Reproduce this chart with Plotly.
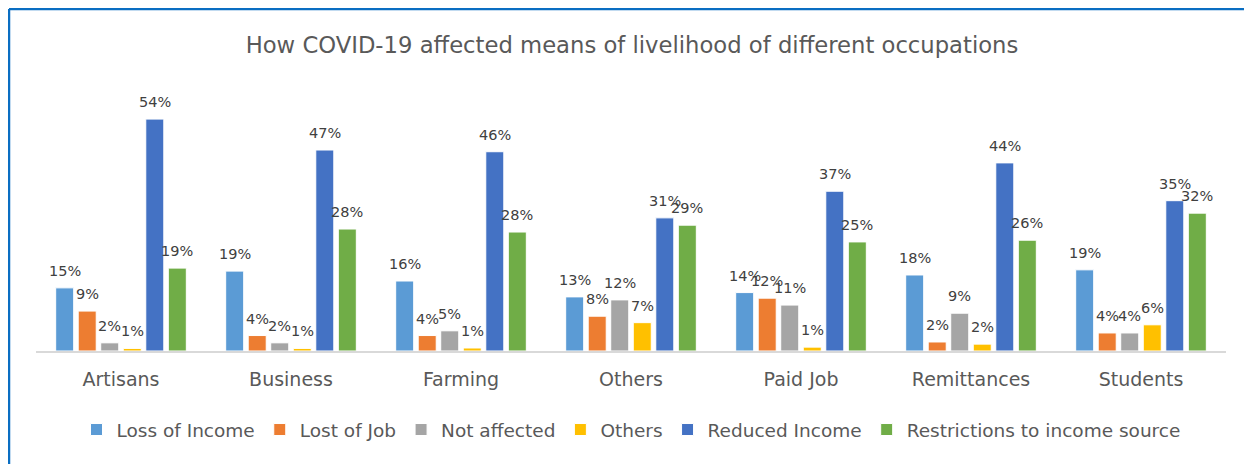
import plotly.graph_objects as go

categories = ["Artisans", "Business", "Farming", "Others", "Paid Job", "Remittances", "Students"]
series_names = ["Loss of Income", "Lost of Job", "Not affected", "Others", "Reduced Income",
                "Restrictions to income source"]
loss_of_income = [14.7, 18.6, 16.3, 12.6, 13.6, 17.7, 18.9]
lost_of_job = [9.3, 3.6, 3.6, 8.1, 12.3, 2.1, 4.2]
not_affected = [1.9, 1.9, 4.7, 11.9, 10.7, 8.8, 4.2]
others = [0.6, 0.6, 0.7, 6.6, 0.9, 1.6, 6.1]
reduced_income = [54.0, 46.8, 46.4, 31.0, 37.2, 43.8, 35.0]
restrictions = [19.3, 28.4, 27.7, 29.3, 25.4, 25.8, 32.1]
colors = ["#5B9BD5", "#ED7D31", "#A5A5A5", "#FFC000", "#4472C4", "#70AD47"]

all_series = [loss_of_income, lost_of_job, not_affected, others, reduced_income, restrictions]

BARGAP = 0.205
fig = go.Figure()
for name, vals, col in zip(series_names, all_series, colors):
    fig.add_trace(go.Bar(
        name=name, x=categories, y=vals,
        marker=dict(color=col, line=dict(color="white", width=1)),
    ))

# data labels above each bar (placed on the category axis with group offsets)
n = len(all_series)
slot = (1 - BARGAP) / n
for j, vals in enumerate(all_series):
    for i, v in enumerate(vals):
        fig.add_annotation(
            x=i - (1 - BARGAP) / 2 + slot * (j + 0.5), y=v, xref="x", yref="y",
            text=f"{v:.0f}%", showarrow=False, xanchor="center", yanchor="bottom", yshift=7,
            font=dict(family="DejaVu Sans", size=14.5, color="#404040"),
        )

# page is offset by 8px body margin
L, R, T, B = 28, 34, 72, 121
fig.update_layout(
    width=1252, height=464,
    margin=dict(l=L, r=R, t=T, b=B),
    paper_bgcolor="white", plot_bgcolor="white",
    barmode="group", bargap=BARGAP, bargroupgap=0.2,
    title=dict(text="How COVID-19 affected means of livelihood of different occupations",
               x=(632 - 8) / 1252, xanchor="center", y=1 - 37 / 464, yanchor="middle",
               font=dict(family="DejaVu Sans", size=22.7, color="#595959")),
    font=dict(family="DejaVu Sans", color="#595959"),
    xaxis=dict(showline=True, linecolor="#D9D9D9", linewidth=2, ticks="",
               tickfont=dict(size=19, color="#595959"), showgrid=False,
               ticklabelstandoff=10),
    yaxis=dict(range=[0, 63.1], visible=False, showgrid=False),
    legend=dict(orientation="h", x=0.5, xanchor="center", y=-(430 - 351) / 271, yanchor="middle",
                font=dict(size=18.5, color="#595959"), itemwidth=30, traceorder="normal"),
    showlegend=True,
)
pw = 1252 - L - R
ph = 464 - T - B
# chart frame (left and top edges visible in reference)
fig.add_shape(type="line", xref="paper", yref="paper",
              x0=(1 - L) / pw, x1=(1 - L) / pw, y0=(343 - 470) / ph, y1=(343 - 1) / ph,
              line=dict(color="#0A6EC2", width=2.5), layer="above")
fig.add_shape(type="line", xref="paper", yref="paper",
              x0=(1 - L) / pw, x1=(1260 - L) / pw, y0=(343 - 1) / ph, y1=(343 - 1) / ph,
              line=dict(color="#0A6EC2", width=2.5), layer="above")

fig.write_html("out.html")
